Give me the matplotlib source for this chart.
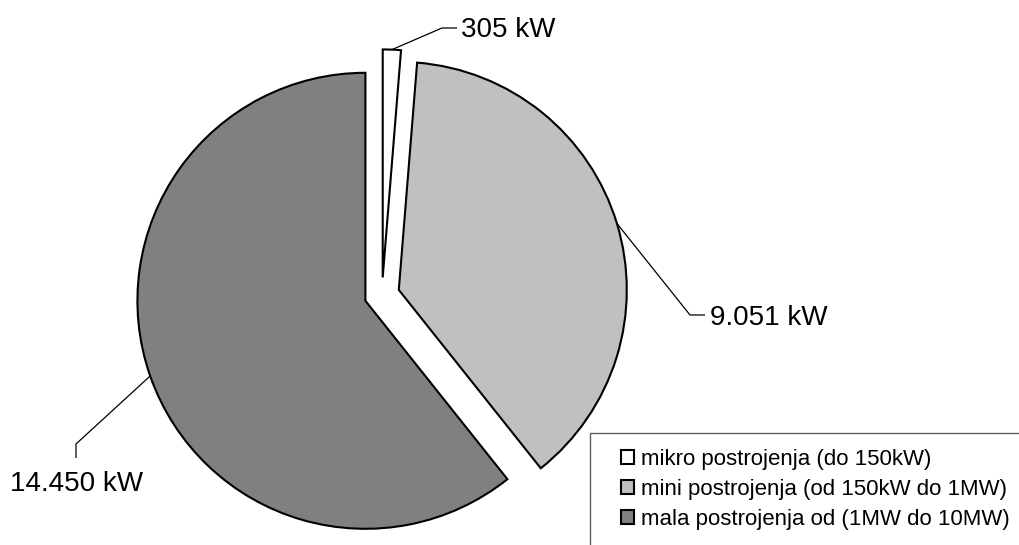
import matplotlib
matplotlib.use("Agg")
import matplotlib.pyplot as plt
from matplotlib.lines import Line2D
import numpy as np

plt.rcParams['font.family'] = ['Liberation Sans', 'DejaVu Sans']

categories = ["mikro postrojenja (do 150kW)",
              "mini postrojenja (od 150kW do 1MW)",
              "mala postrojenja od (1MW do 10MW)"]
values_kw = [305, 9051, 14450]
value_labels = ["305 kW", "9.051 kW", "14.450 kW"]
colors = ["#FFFFFF", "#C0C0C0", "#808080"]

W, H = 1020, 545
fig = plt.figure(figsize=(W / 100, H / 100), dpi=100)
ax = fig.add_axes([0, 0, 1, 1])

# pixel geometry of the pie
cx, cy, scale = 382, 295, 228.0
explode_frac = 0.077


def px(x, y):
    return ((x - cx) / scale, (cy - y) / scale)


wedges, _ = ax.pie(values_kw, colors=colors, startangle=90, counterclock=False,
                   explode=[explode_frac] * len(values_kw), radius=1.0, center=(0, 0),
                   wedgeprops=dict(edgecolor="black", linewidth=1.5))

ax.set_aspect('auto')
ax.set_xlim(-cx / scale, (W - cx) / scale)
ax.set_ylim(-(H - cy) / scale, cy / scale)
ax.axis('off')

# leader lines and labels: start at wedge mid-angle on arc
elbows = [((442, 28), (457, 28)), ((690, 315), (705, 315)), ((76, 444), (76, 458))]
text_pos = [(461, 37, 'left'), (710, 325, 'left'), (77, 491, 'center')]
for w, lab, (e1, e2), (tx, ty, ha) in zip(wedges, value_labels, elbows, text_pos):
    mid = np.deg2rad((w.theta1 + w.theta2) / 2)
    ox, oy = w.center
    sx, sy = ox + np.cos(mid) * w.r, oy + np.sin(mid) * w.r
    p1 = px(*e1)
    p2 = px(*e2)
    ax.plot([sx, p1[0], p2[0]], [sy, p1[1], p2[1]], color="black", lw=0.9,
            solid_capstyle='butt')
    tpos = px(tx, ty)
    ax.text(tpos[0], tpos[1], lab, fontsize=20, ha=ha, va='baseline', color="black")

# legend frame (partially outside the figure)
fx0, fy0 = 590 / W, 1 - 433 / H
fig.add_artist(Line2D([fx0, fx0, 1.0], [0.0, fy0, fy0], transform=fig.transFigure,
                      color="#606060", lw=1.0))

leg = fig.legend(wedges, categories, loc='upper left',
                 bbox_to_anchor=(621 / W, 1 - 449 / H), frameon=False,
                 fontsize=16, handlelength=0.58, handleheight=0.58,
                 handletextpad=0.3, labelspacing=0.4, borderpad=0, borderaxespad=0)

fig.savefig("out.png", dpi=100)
